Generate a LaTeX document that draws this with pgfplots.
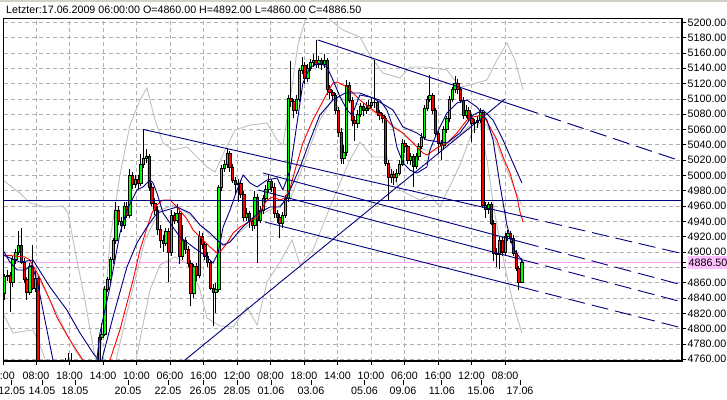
\documentclass[border=0pt]{standalone}
\usepackage{fontspec}
\setmainfont{Liberation Sans}
\usepackage{pgfplots}
\usepackage{pgfplotstable}
\pgfplotsset{compat=1.18}
\definecolor{navyc}{RGB}{0,0,128}
\definecolor{gridc}{RGB}{176,176,176}
\definecolor{bandc}{RGB}{192,192,192}
\definecolor{upc}{RGB}{0,255,0}
\definecolor{dnc}{RGB}{255,0,0}
\definecolor{pinkl}{RGB}{255,160,255}
\definecolor{pinkb}{RGB}{255,192,255}
\definecolor{stripc}{RGB}{212,208,200}
\newcommand{\cf}{\fontsize{10.7bp}{12.8bp}\selectfont}

\pgfplotstableread{
j O H L C
0 4846 4872 4838 4868
1 4868 4876 4862 4870
2 4870 4874 4822 4860
3 4860 4895 4855 4890
4 4890 4904 4885 4900
5 4900 4927 4896 4909
6 4909 4931 4884 4887
7 4887 4892 4860 4864
8 4864 4868 4838 4848
9 4848 4886 4844 4881
10 4881 4909 4850 4853
11 4853 4876 4848 4866
12 4866 4870 4700 4705
13 4705 4718 4690 4700
14 4700 4712 4688 4695
15 4695 4710 4682 4700
16 4700 4712 4690 4705
17 4705 4715 4695 4700
18 4700 4716 4692 4710
19 4710 4722 4700 4712
20 4712 4730 4705 4720
21 4720 4745 4712 4728
22 4728 4762 4720 4735
23 4735 4768 4725 4730
24 4730 4768 4718 4725
25 4725 4740 4712 4718
26 4718 4728 4705 4712
27 4712 4722 4700 4708
28 4708 4720 4698 4712
29 4712 4725 4705 4718
30 4718 4735 4710 4728
31 4728 4742 4720 4735
32 4735 4750 4728 4742
33 4742 4756 4736 4745
34 4745 4792 4740 4789
35 4789 4807 4785 4793
36 4793 4856 4790 4852
37 4852 4868 4848 4865
38 4865 4894 4860 4890
39 4890 4918 4885 4915
40 4915 4965 4910 4955
41 4955 4960 4935 4940
42 4940 4946 4926 4935
43 4935 4966 4930 4960
44 4960 4966 4944 4948
45 4948 5008 4944 5000
46 5000 5004 4982 4988
47 4988 5000 4984 4995
48 4995 5000 4982 4990
49 4990 5028 4986 5015
50 5015 5061 5010 5022
51 5022 5034 5016 5025
52 5025 5028 4980 4985
53 4985 4990 4960 4964
54 4964 4970 4948 4955
55 4955 4960 4922 4930
56 4930 4935 4905 4915
57 4915 4922 4900 4912
58 4912 4932 4908 4927
59 4927 4932 4861 4900
60 4900 4955 4895 4948
61 4948 4952 4936 4942
62 4942 4963 4938 4950
63 4950 4954 4885 4895
64 4895 4935 4890 4916
65 4916 4920 4898 4903
66 4903 4908 4880 4885
67 4885 4890 4830 4846
68 4846 4885 4840 4881
69 4881 4886 4862 4870
70 4870 4928 4866 4920
71 4920 4925 4904 4910
72 4910 4914 4890 4895
73 4895 4900 4880 4886
74 4886 4890 4850 4853
75 4853 4858 4803 4848
76 4848 4860 4820 4852
77 4852 4988 4848 4985
78 4985 5014 4980 5010
79 5010 5020 5005 5015
80 5015 5036 5010 5029
81 5029 5032 5005 5011
82 5011 5015 4990 4994
83 4994 4998 4975 4988
84 4988 4995 4965 4990
85 4990 4994 4970 4975
86 4975 4980 4940 4945
87 4945 4958 4940 4950
88 4950 4954 4932 4940
89 4940 4945 4928 4935
90 4935 4980 4930 4972
91 4972 4976 4886 4942
92 4942 4960 4938 4955
93 4955 4975 4950 4970
94 4970 4988 4965 4982
95 4982 5002 4978 4992
96 4992 4996 4978 4985
97 4985 4990 4945 4951
98 4951 4955 4938 4945
99 4945 4950 4918 4938
100 4938 4952 4932 4948
101 4948 4975 4944 4970
102 4970 5105 4965 5101
103 5101 5149 5090 5097
104 5097 5100 5075 5085
105 5085 5105 5080 5100
106 5100 5140 5096 5138
107 5138 5155 5132 5144
108 5144 5148 5120 5127
109 5127 5145 5122 5140
110 5140 5152 5136 5148
111 5148 5159 5142 5150
112 5150 5177 5140 5145
113 5145 5156 5140 5150
114 5150 5154 5138 5145
115 5145 5158 5140 5150
116 5150 5154 5105 5112
117 5112 5118 5100 5108
118 5108 5112 5098 5105
119 5105 5108 5080 5085
120 5085 5090 5050 5057
121 5057 5062 5015 5022
122 5022 5040 5015 5030
123 5030 5125 5025 5118
124 5118 5122 5094 5098
125 5098 5102 5065 5072
126 5072 5078 5045 5068
127 5068 5085 5062 5080
128 5080 5095 5076 5090
129 5090 5094 5078 5085
130 5085 5096 5080 5088
131 5088 5098 5084 5092
132 5092 5102 5088 5096
133 5096 5151 5088 5095
134 5095 5098 5078 5082
135 5082 5086 5072 5078
136 5078 5082 5068 5075
137 5075 5078 5012 5016
138 5016 5020 4968 4997
139 4997 5008 4990 5002
140 5002 5006 4988 4998
141 4998 5008 4992 5003
142 5003 5020 5000 5015
143 5015 5048 5012 5042
144 5042 5046 5030 5038
145 5038 5040 5015 5020
146 5020 5030 5014 5025
147 5025 5028 4985 5012
148 5012 5030 5008 5025
149 5025 5042 5020 5038
150 5038 5055 5034 5050
151 5050 5092 5046 5088
152 5088 5104 5084 5100
153 5100 5131 5096 5105
154 5105 5108 5080 5085
155 5085 5088 5050 5055
156 5055 5058 5030 5042
157 5042 5046 5020 5040
158 5040 5064 5035 5060
159 5060 5078 5055 5075
160 5075 5104 5070 5100
161 5100 5116 5096 5112
162 5112 5130 5108 5120
163 5120 5126 5106 5112
164 5112 5116 5094 5098
165 5098 5102 5074 5079
166 5079 5092 5075 5085
167 5085 5090 5070 5075
168 5075 5080 5044 5068
169 5068 5074 5055 5070
170 5070 5078 5062 5072
171 5072 5088 5068 5083
172 5083 5086 4958 4961
173 4961 4966 4945 4956
174 4956 4966 4950 4962
175 4962 4965 4935 4938
176 4938 4942 4888 4899
177 4899 4905 4880 4897
178 4897 4920 4878 4916
179 4916 4920 4895 4900
180 4900 4925 4896 4920
181 4920 4929 4915 4925
182 4925 4928 4912 4918
183 4918 4922 4895 4899
184 4899 4903 4875 4879
185 4879 4882 4850 4860
186 4860 4892 4860 4886.5
}\candles

\pgfplotsset{
  chartbase/.style={
    at={(3.8bp,38.8bp)}, anchor=south west, scale only axis,
    width=678.2bp, height=342.4bp,
    xmin=-0.288, xmax=243.67, ymin=4757.5, ymax=5204.6,
  },
}

\begin{document}
\begin{tikzpicture}
\useasboundingbox (0,0) rectangle (727bp,400bp);
\fill[white] (0,0) rectangle (727bp,400bp);
\fill[stripc] (0,397.5bp) rectangle (727bp,400bp);

% ---------- main axis: grid, ticks, labels, bands, wicks ----------
\begin{axis}[chartbase,
  axis line style={line width=1bp},
  xtick={-0.28,11.30,23.35,35.40,47.45,59.50,71.55,83.60,95.65,107.70,119.75,131.80,143.85,155.90,167.95,180.00},
  xticklabels={{\hspace*{-5bp}12:00},08:00,18:00,14:00,10:00,06:00,16:00,12:00,08:00,18:00,14:00,10:00,06:00,16:00,12:00,08:00},
  ytick={4760,4780,4800,4820,4840,4860,4880,4900,4920,4940,4960,4980,5000,5020,5040,5060,5080,5100,5120,5140,5160,5180,5200},
  yticklabels={4760.00,4780.00,4800.00,4820.00,4840.00,4860.00,{},4900.00,4920.00,4940.00,4960.00,4980.00,5000.00,5020.00,5040.00,5060.00,5080.00,5100.00,5120.00,5140.00,5160.00,5180.00,5200.00},
  xtick pos=lower, ytick pos=upper, yticklabel pos=upper,
  tick align=outside, major tick length=4bp,
  tick style={black, line width=0.8bp},
  grid=major,
  major grid style={gridc, dash pattern=on 4bp off 3bp, line width=0.8bp},
  tick label style={font=\cf, inner sep=0pt},
  xticklabel style={yshift=-6.5bp},
  yticklabel style={anchor=west, xshift=1.5bp},
  extra y ticks={4886.5},
  extra y tick labels={4886.50},
  extra y tick style={grid=major, major grid style={pinkl, solid, line width=1bp},
     yticklabel style={fill=pinkb, inner xsep=1bp, inner ysep=2.6bp}},
  extra x ticks={2.55,13.45,25.32,44.39,58.78,71.37,83.6,95.83,110.2,129.46,143.3,157.3,171.4,185.4},
  extra x tick labels={{\rule{0.9bp}{5bp}\\[-2.8bp]12.05},{\rule{0.9bp}{5bp}\\[-2.8bp]14.05},{\rule{0.9bp}{5bp}\\[-2.8bp]18.05},{\rule{0.9bp}{5bp}\\[-2.8bp]20.05},{\rule{0.9bp}{5bp}\\[-2.8bp]22.05},{\rule{0.9bp}{5bp}\\[-2.8bp]26.05},{\rule{0.9bp}{5bp}\\[-2.8bp]28.05},{\rule{0.9bp}{5bp}\\[-2.8bp]01.06},{\rule{0.9bp}{5bp}\\[-2.8bp]03.06},{\rule{0.9bp}{5bp}\\[-2.8bp]05.06},{\rule{0.9bp}{5bp}\\[-2.8bp]09.06},{\rule{0.9bp}{5bp}\\[-2.8bp]11.06},{\rule{0.9bp}{5bp}\\[-2.8bp]15.06},{\rule{0.9bp}{5bp}\\[-2.8bp]17.06}},
  extra x tick style={major tick length=0pt, grid=none, xticklabel style={align=center, yshift=-11.8bp}},
]
% Bollinger-type bands (light gray)
\addplot[bandc, line width=0.9bp] coordinates {(-0.6,4994.1) (5.5,4977.1) (9.1,4964.1) (14.5,4958.8) (21.0,4960.2) (22.8,4951) (25.3,4902.7) (28.9,4837.4) (31.4,4785.2) (32.9,4756.5) (34.3,4765.6) (35.4,4798.3) (37.9,4915.8) (41.5,5000.6) (45.1,5065.9) (48.7,5098.5) (51.2,5114.2) (54.1,5072.4) (57.0,5042.4) (60.6,5033.3) (65.6,5037.2) (69.2,5024.1) (72.8,5011.1) (75.7,5004.5) (79.3,5033.3) (82.9,5059.4) (88.3,5065.9) (94.4,5068.5) (98.0,5046.3) (100.1,5039.8) (102.7,5098.5) (105.5,5170.3) (108.1,5203) (113.4,5213.4) (121.7,5190) (127.8,5180.8) (131.4,5157.3) (136.1,5133.8) (142.2,5127.3) (145.8,5141.6) (151.9,5141.6) (159.1,5137.7) (163.8,5115.5) (167.4,5118.1) (173.5,5124.7) (177.1,5150.8) (180.7,5173) (183.6,5150.8) (186.5,5111.6)};
\addplot[bandc, line width=0.9bp] coordinates {(-0.6,4887) (9.1,4887) (14.5,4850.5) (19.9,4811.3) (25.3,4772.1) (28.9,4752.4) (39.7,4752.4) (45.1,4837.4) (50.5,4915.8) (55.9,4954.9) (61.3,4961.7) (66.7,4948.4) (73.9,4922.3) (79.3,4909.2) (84.7,4926.2) (91.9,4948.4) (99.1,4961.7) (102.7,4968) (108.1,5020.2) (113.4,5072.4) (118.8,5105.1) (122.5,5098.5) (127.8,5092) (135.0,5079) (139.7,5066) (145.8,5046.3) (151.2,5033.3) (156.6,5033.3) (163.8,5052.9) (168.5,5069.8) (173.5,5065.9) (176.4,5046.3) (180.0,5013.7) (183.6,4981.1) (186.1,4961.5)};
\addplot[bandc, line width=0.9bp] coordinates {(-0.6,4820.4) (3.0,4794.4) (10.2,4798.3) (12.7,4778.7) (15.3,4752.4) (46.9,4752.4) (49.4,4798.3) (52.3,4850.5) (55.9,4883.1) (61.3,4893.6) (66.7,4883.1) (70.3,4850.5) (72.8,4813.9) (77.5,4803.5) (82.2,4802.2) (87.2,4828.3) (90.8,4804.8) (94.4,4860.9) (99.1,4887) (103.4,4915.8) (106.3,4883.1) (110.9,4902.7) (118.1,4968) (124.2,5020.2) (127.8,5043.7) (132.5,5024.1) (137.5,5024.1) (139.7,5000.6) (142.2,4981.1) (149.4,4968) (153.0,4974.5) (156.6,4958.8) (163.8,5013.7) (168.5,5059.4) (171.0,5068.5) (173.5,5020.2) (176.4,4948.4) (180.0,4880.5) (181.8,4850.5) (184.3,4815.2) (186.1,4794.4)};
% wicks
\addplot[draw=none, mark=none, error bars/.cd, y dir=plus, y explicit, error mark=none,
  error bar style={draw=black, solid, line width=0.9bp}]
  table[x=j, y=L, y error expr={\thisrow{H}-\thisrow{L}}] {\candles};
\end{axis}

% ---------- candle bodies ----------
\begin{axis}[chartbase, hide axis, ybar stacked, bar width=0.85]
\addplot[draw=none, fill=none] table[x=j, y expr={min(\thisrow{O},\thisrow{C})}] {\candles};
\addplot[fill=upc, draw=black, line width=0.6bp] table[x=j, y expr={max(\thisrow{C}-\thisrow{O},0)}] {\candles};
\addplot[fill=dnc, draw=black, line width=0.6bp] table[x=j, y expr={max(\thisrow{O}-\thisrow{C},0)}] {\candles};
\end{axis}

% ---------- moving averages and trend lines ----------
\begin{axis}[chartbase, hide axis]
\addplot[dnc, line width=0.9bp] coordinates {(-0.6,4896.2) (3.7,4894.9) (7.3,4893.6) (9.1,4889.6) (12.7,4866.1) (16.3,4837.4) (18.8,4815.2) (22.4,4791.7) (26.0,4770.8) (28.2,4759) (32.5,4743.4) (36.1,4748.6) (37.9,4759) (41.5,4798.3) (46.2,4863.5) (48.7,4902.7) (51.2,4931.4) (53.0,4951) (54.8,4961.7) (57.0,4968) (59.5,4968) (62.0,4958.8) (65.6,4943.2) (67.8,4928.8) (70.3,4919.7) (73.9,4906.6) (76.4,4898.8) (77.5,4900.1) (80.0,4911.8) (82.2,4924.9) (84.7,4932.7) (87.2,4937.9) (90.8,4945.8) (94.4,4968) (96.5,4971.9) (99.1,4968) (100.9,4970.6) (102.7,4983.7) (105.2,5016.3) (107.3,5042.4) (110.9,5072.4) (115.3,5102.5) (118.1,5120.7) (119.6,5122.0) (123.2,5115.5) (127.8,5098.5) (131.4,5088.1) (137.5,5072.4) (139.7,5063.3) (143.3,5055.5) (146.9,5042.4) (150.5,5029.3) (151.9,5026.7) (155.5,5035.9) (159.1,5042.4) (162.7,5055.5) (166.3,5072.4) (168.5,5076.4) (172.1,5079) (174.6,5063.3) (177.1,5046.3) (179.3,5024.1) (181.8,5003.2) (184.3,4971.9) (185.4,4952.3) (186.5,4939.2)};
\addplot[navyc, line width=0.9bp] coordinates {(-0.6,4902.7) (1.9,4887) (4.5,4876.6) (7.3,4876.6) (9.9,4883.1) (12.0,4857) (14.5,4811.3) (17.4,4759) (19.9,4720) (27.1,4707) (31.8,4726.5) (33.2,4759) (34.3,4794.4) (37.9,4854.4) (41.5,4924.9) (44.0,4954.9) (47.6,4981.1) (49.8,4985) (52.3,4994.1) (53.4,4990.2) (54.8,4977.1) (57.0,4951) (59.5,4937.9) (63.1,4919.7) (67.8,4906.6) (72.8,4893.6) (75.0,4885.7) (76.8,4898.8) (78.6,4932.7) (81.1,4954.9) (83.6,4981.1) (85.8,5000.6) (88.3,4990.2) (90.8,4985) (94.4,4994.1) (98.0,4996.7) (100.1,4981.1) (102.7,5007.1) (105.2,5068.5) (107.3,5120.7) (109.9,5141.6) (113.4,5146.8) (116.0,5141.6) (118.1,5124.7) (120.7,5102.5) (123.2,5085.5) (125.0,5079) (127.8,5105.1) (131.4,5102.5) (135.0,5098.5) (137.5,5085.5) (139.7,5063.3) (141.1,5037.2) (143.3,5016.3) (145.8,5007.1) (148.3,5003.2) (151.9,5011.1) (153.0,5033.3) (155.5,5055.5) (159.1,5081.6) (162.7,5094.6) (166.3,5098.5) (169.9,5089.4) (173.5,5072.4) (175.7,5046.3) (178.2,4987.6) (180.7,4935.3) (182.9,4905.3) (185.4,4892.3) (186.5,4887)};
\addplot[navyc, line width=0.9bp] coordinates {(-0.6,4896.2) (5.5,4887) (10.2,4889.6) (16.3,4854.4) (22.4,4824.4) (27.1,4794.4) (31.8,4768.2) (34.7,4755.2) (39.0,4815.2) (44.0,4880.5) (47.6,4911.8) (51.2,4932.7) (54.8,4951) (58.4,4954.9) (62.0,4958.8) (66.7,4951) (70.3,4935.3) (73.9,4924.9) (76.4,4915.8) (78.6,4909.2) (81.1,4913.1) (84.7,4928.8) (88.3,4941.8) (91.9,4952.3) (95.5,4958.8) (99.1,4958.8) (101.6,4971.9) (106.3,5011.1) (109.9,5046.3) (113.4,5079) (118.1,5098.5) (122.5,5107.7) (127.8,5107.7) (132.5,5101.2) (139.7,5085.5) (143.3,5063.3) (148.3,5055.5) (151.9,5046.3) (159.1,5042.4) (163.8,5055.5) (168.5,5079) (172.1,5085.5) (175.7,5072.4) (179.3,5046.3) (182.9,5016.3) (186.1,4990.2)};
% horizontal level
\addplot[navyc, line width=1.1bp] coordinates {(-0.288,4967.3) (243.67,4967.3)};
% trend lines (solid part)
\addplot[navyc, line width=0.9bp] coordinates {(112.7,5176.9) (186.1,5088.1)};
\addplot[navyc, line width=0.9bp] coordinates {(49.7,5060.3) (186.1,4946.9)};
\addplot[navyc, line width=0.9bp] coordinates {(93.0,5003.2) (186.1,4912.9)};
\addplot[navyc, line width=0.9bp] coordinates {(91.2,4981.1) (186.1,4890.1)};
\addplot[navyc, line width=0.9bp] coordinates {(93.7,4939.2) (186.1,4854.0)};
\addplot[navyc, line width=0.9bp] coordinates {(63.5,4755.0) (180.0,5099.9)};
% trend lines (dashed projection)
\addplot[navyc, line width=0.9bp, dash pattern=on 17bp off 7bp] coordinates {(186.1,5088.1) (243.7,5018.4)};
\addplot[navyc, line width=0.9bp, dash pattern=on 17bp off 7bp] coordinates {(186.1,4946.9) (243.7,4898.0)};
\addplot[navyc, line width=0.9bp, dash pattern=on 17bp off 7bp] coordinates {(186.1,4912.9) (243.7,4857.1)};
\addplot[navyc, line width=0.9bp, dash pattern=on 17bp off 7bp] coordinates {(186.1,4890.1) (243.7,4834.8)};
\addplot[navyc, line width=0.9bp, dash pattern=on 17bp off 7bp] coordinates {(186.1,4854.0) (243.7,4800.9)};
\end{axis}

% thick bottom and right frame
\draw[line width=2.6bp, line join=miter] (3.3bp,38.8bp) -- (682bp,38.8bp) -- (682bp,381.7bp);
% header text
\node[anchor=base west, inner sep=0pt, font=\cf] at (6bp,386.3bp) {Letzter:17.06.2009 06:00:00 O=4860.00 H=4892.00 L=4860.00 C=4886.50};
\end{tikzpicture}
\end{document}
